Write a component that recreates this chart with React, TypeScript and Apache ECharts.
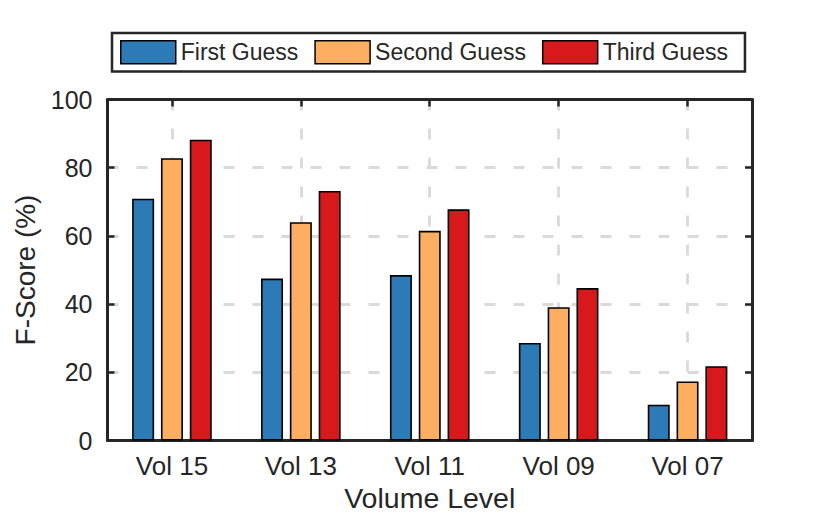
import React, { useEffect, useRef } from "react";
import * as echarts from "echarts";

const categories = ["Vol 15", "Vol 13", "Vol 11", "Vol 09", "Vol 07"];
const firstGuess = [70.9, 47.5, 48.5, 28.6, 10.5];
const secondGuess = [82.8, 64.0, 61.5, 39.1, 17.3];
const thirdGuess = [88.2, 73.2, 67.8, 44.7, 21.8];
const seriesNames = ["First Guess", "Second Guess", "Third Guess"];
const seriesColors = ["#2c7bb6", "#fdae61", "#d7191c"];
const yMin = 0;
const yMax = 100;
const yStep = 20;

const FONT = "'Liberation Sans', Arial, Helvetica, sans-serif";
const INK = "#262626";
const GRID_COLOR = "#dadada";

export default function App() {
  const ref = useRef<HTMLDivElement>(null);

  useEffect(() => {
    if (!ref.current) return;
    const chart = echarts.init(ref.current, undefined, { renderer: "svg" });

    const axisLine = { show: true, onZero: false, lineStyle: { color: INK, width: 3 } };
    const tick = { show: true, inside: true, length: 7, lineStyle: { color: INK, width: 2.5 } };
    const dashed = { color: GRID_COLOR, width: 2.8, type: [11, 18] as number[] };

    const values = [firstGuess, secondGuess, thirdGuess];

    chart.setOption({
      animation: false,
      backgroundColor: "#ffffff",
      textStyle: { fontFamily: FONT },
      legend: {
        show: true,
        left: 112,
        top: 33,
        orient: "horizontal",
        icon: "rect",
        itemWidth: 55,
        itemHeight: 23,
        itemGap: 16,
        padding: [7, 17, 7, 8],
        borderColor: INK,
        borderWidth: 2.5,
        borderRadius: 0,
        backgroundColor: "#ffffff",
        itemStyle: { borderColor: "#000", borderWidth: 1.5 },
        textStyle: { fontSize: 23, color: INK, fontFamily: FONT, padding: [0, 0, 0, 0] },
        data: seriesNames,
      },
      grid: {
        left: 107.5,
        right: 78,
        top: 99.5,
        bottom: 76.5,
        containLabel: false,
        outerBoundsMode: "none",
        show: false,
      },
      xAxis: [
        {
          type: "category",
          data: categories,
          position: "bottom",
          boundaryGap: true,
          axisLine,
          axisTick: { ...tick, alignWithLabel: true },
          axisLabel: { show: true, margin: 12, fontSize: 26, color: INK, fontFamily: FONT },
          splitLine: { show: true, alignWithLabel: true, lineStyle: dashed },
          name: "Volume Level",
          nameLocation: "middle",
          nameGap: 41,
          nameTextStyle: { fontSize: 28.5, color: INK, fontFamily: FONT },
        },
        {
          type: "category",
          data: categories,
          position: "top",
          boundaryGap: true,
          axisLine,
          axisTick: { ...tick, alignWithLabel: true },
          axisLabel: { show: false },
          splitLine: { show: false },
        },
      ],
      yAxis: [
        {
          type: "value",
          position: "left",
          min: yMin,
          max: yMax,
          interval: yStep,
          axisLine,
          axisTick: tick,
          axisLabel: { show: true, margin: 15, fontSize: 25, color: INK, fontFamily: FONT },
          splitLine: { show: true, showMinLine: false, showMaxLine: false, lineStyle: dashed },
          name: "F-Score (%)",
          nameLocation: "middle",
          nameGap: 64,
          nameRotate: 90,
          nameTextStyle: { fontSize: 28, color: INK, fontFamily: FONT },
        },
        {
          type: "value",
          position: "right",
          min: yMin,
          max: yMax,
          interval: yStep,
          axisLine,
          axisTick: tick,
          axisLabel: { show: false },
          splitLine: { show: false },
        },
      ],
      series: seriesNames.map((name, i) => ({
        name,
        type: "bar",
        xAxisIndex: 0,
        yAxisIndex: 0,
        data: values[i],
        barWidth: 22,
        barGap: "31%",
        itemStyle: { color: seriesColors[i], borderColor: "#000", borderWidth: 1.6 },
        emphasis: { disabled: true },
      })),
    });

    return () => {
      chart.dispose();
    };
  }, []);

  return (
    <div
      ref={ref}
      style={{ position: "absolute", left: 0, top: 0, width: 830, height: 517, background: "#fff" }}
    />
  );
}
